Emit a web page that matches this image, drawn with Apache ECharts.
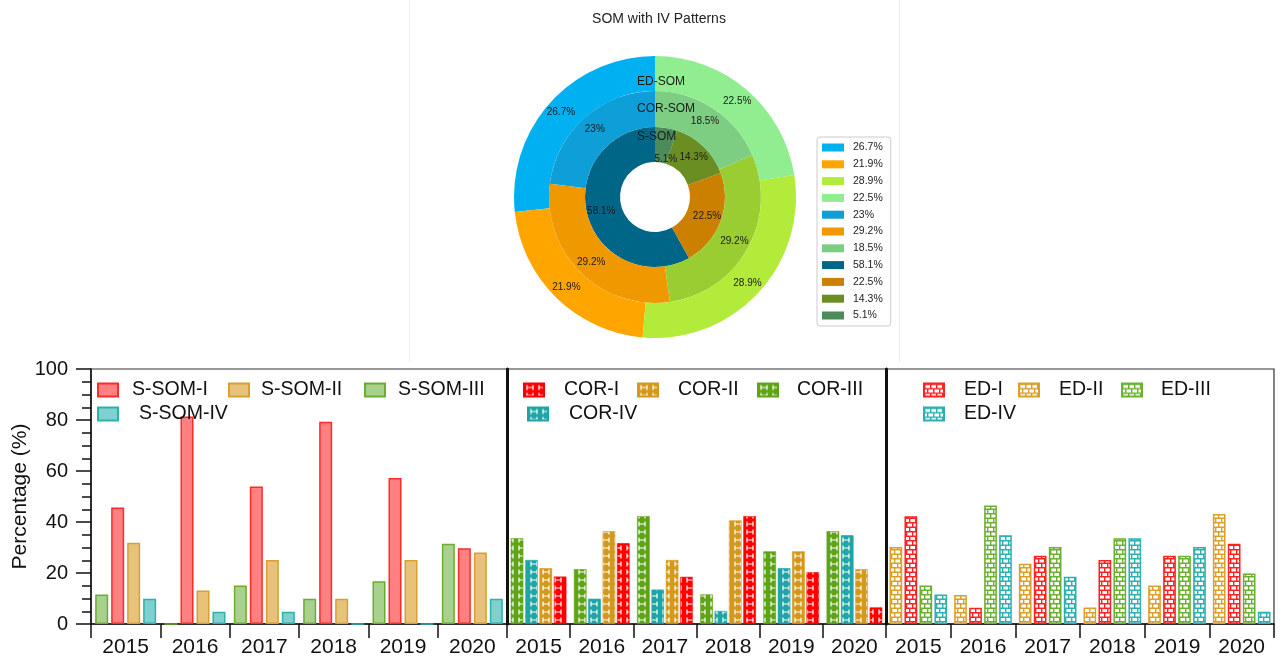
<!DOCTYPE html>
<html>
<head>
<meta charset="utf-8">
<title>SOM with IV Patterns</title>
<script src="https://cdn.jsdelivr.net/npm/echarts@6/dist/echarts.min.js"></script>
<style>
html, body { margin: 0; padding: 0; background: #fff; }
#main { width: 1282px; height: 659px; }
</style>
</head>
<body>
<div id="main"></div>
<script>
// ---- donut data (outer = ED-SOM, middle = COR-SOM, inner = S-SOM) ----
var edRing  = [26.7, 21.9, 28.9, 22.5];
var corRing = [23, 29.2, 29.2, 18.5];
var sRing   = [58.1, 22.5, 14.3, 5.1];
var edRingColors  = ['#00B0F0', '#FFA500', '#B3EB3A', '#90EE90'];
var corRingColors = ['#0E9ED8', '#F09800', '#9ACD32', '#7DCE82'];
var sRingColors   = ['#006688', '#CC8000', '#6B8E23', '#4E8B5A'];

// ---- bar data ----
var years = ['2015', '2016', '2017', '2018', '2019', '2020'];
var sSom1 = [45.7, 81.4, 53.9, 79.3, 57.3, 29.7];
var sSom2 = [31.9, 13.1, 25.1, 9.9, 25.1, 28.0];
var sSom3 = [11.6, 0, 15.1, 9.9, 16.8, 31.5];
var sSom4 = [9.9, 4.8, 4.8, 0, 0, 9.9];
var cor1 = [18.6, 31.7, 18.5, 42.3, 20.3, 6.5];
var cor2 = [21.9, 36.4, 25.1, 40.6, 28.5, 21.5];
var cor3 = [33.6, 21.5, 42.3, 11.6, 28.5, 36.4];
var cor4 = [25.1, 9.9, 13.5, 5.1, 21.9, 34.8];
var ed1 = [42.3, 6.4, 26.8, 25.1, 26.8, 31.5];
var ed2 = [30.2, 11.4, 23.6, 6.5, 15.1, 43.1];
var ed3 = [15.1, 46.5, 30.2, 33.6, 26.8, 19.8];
var ed4 = [11.6, 34.8, 18.5, 33.6, 30.2, 4.8];
var yTicks = [0, 20, 40, 60, 80, 100];

var FONT = '"Liberation Sans", Arial, sans-serif';

// pattern fills
function hPattern(color) {
  var c = document.createElement('canvas');
  c.width = 12; c.height = 8;
  var g = c.getContext('2d');
  g.fillStyle = color; g.fillRect(0, 0, 12, 8);
  g.strokeStyle = '#fff'; g.lineWidth = 1.2;
  g.beginPath();
  g.moveTo(3, 1.5); g.lineTo(3, 6.5);
  g.moveTo(9, 1.5); g.lineTo(9, 6.5);
  g.moveTo(3, 4); g.lineTo(9, 4);
  g.stroke();
  return { image: c, repeat: 'repeat' };
}
function brickPattern(color) {
  var c = document.createElement('canvas');
  c.width = 12; c.height = 9;
  var g = c.getContext('2d');
  g.fillStyle = '#fff'; g.fillRect(0, 0, 12, 9);
  g.strokeStyle = color; g.lineWidth = 1.4;
  g.beginPath();
  g.moveTo(0, 0.7); g.lineTo(12, 0.7);
  g.moveTo(0, 5.2); g.lineTo(12, 5.2);
  g.moveTo(0.7, 0.7); g.lineTo(0.7, 5.2);
  g.moveTo(6.7, 0.7); g.lineTo(6.7, 5.2);
  g.moveTo(3.7, 5.2); g.lineTo(3.7, 9);
  g.moveTo(9.7, 5.2); g.lineTo(9.7, 9);
  g.stroke();
  return { image: c, repeat: 'repeat' };
}

function ringData(prefix, vals, colors) {
  return vals.map(function (v, i) {
    return { name: prefix + '|' + v + '%', value: v, itemStyle: { color: colors[i] } };
  });
}
var edData = ringData('ED', edRing, edRingColors);
var corData = ringData('COR', corRing, corRingColors);
var sData = ringData('S', sRing, sRingColors);
// small slice label sits lower, below the ring title
sData[3].label = { offset: [2, 17] };

function ring(data, radius) {
  return {
    type: 'pie', center: [655, 197], radius: radius,
    startAngle: 90, clockwise: false, silent: true,
    data: data,
    label: {
      position: 'inside', fontSize: 10, color: '#1a1a1a', fontFamily: FONT,
      formatter: function (p) { return p.value + '%'; }
    },
    labelLine: { show: false },
    itemStyle: { borderWidth: 0 }
  };
}

function bar(name, data, idx, style, width, gap) {
  return {
    name: name, type: 'bar', xAxisIndex: idx, yAxisIndex: idx,
    data: data, barWidth: width, barGap: gap, silent: true,
    itemStyle: style
  };
}

var sStyle = {
  I:   { color: '#FF8080', borderColor: '#FF2A2A', borderWidth: 1.5 },
  II:  { color: '#E6C27A', borderColor: '#D9A030', borderWidth: 1.5 },
  III: { color: '#A9D18E', borderColor: '#6AAE2E', borderWidth: 1.5 },
  IV:  { color: '#7FD1CF', borderColor: '#2BB1AE', borderWidth: 1.5 }
};
var corStyle = {
  I:   { color: hPattern('#FF0000'), borderColor: '#FF0000', borderWidth: 0.6 },
  II:  { color: hPattern('#D4991C'), borderColor: '#D4991C', borderWidth: 0.6 },
  III: { color: hPattern('#5FA317'), borderColor: '#5FA317', borderWidth: 0.6 },
  IV:  { color: hPattern('#1FA5A5'), borderColor: '#1FA5A5', borderWidth: 0.6 }
};
var edStyle = {
  I:   { color: brickPattern('#FF2222'), borderColor: '#FF2222', borderWidth: 1.5 },
  II:  { color: brickPattern('#D9A02A'), borderColor: '#D9A02A', borderWidth: 1.5 },
  III: { color: brickPattern('#6BB131'), borderColor: '#6BB131', borderWidth: 1.5 },
  IV:  { color: brickPattern('#2DB0B0'), borderColor: '#2DB0B0', borderWidth: 1.5 }
};

var grids = [
  { left: 91, top: 369, width: 416, height: 255 },
  { left: 507, top: 369, width: 379, height: 255 },
  { left: 886, top: 369, width: 388, height: 255 }
];
grids.forEach(function (g) { g.show = true; g.borderColor = '#333'; g.borderWidth = 1.2; g.backgroundColor = 'transparent'; });

var xAxes = [0, 1, 2].map(function (i) {
  return {
    type: 'category', gridIndex: i, data: years, boundaryGap: true,
    axisLine: { lineStyle: { color: '#111', width: 1.5 } },
    axisTick: { show: true, length: 14, lineStyle: { color: '#111', width: 1.5 } },
    axisLabel: { fontSize: 21, color: '#111', margin: 13, fontFamily: FONT }
  };
});
var yAxes = [0, 1, 2].map(function (i) {
  var first = i === 0;
  return {
    type: 'value', gridIndex: i, min: yTicks[0], max: yTicks[yTicks.length - 1], interval: 20,
    splitLine: { show: false },
    axisLine: { show: true, lineStyle: { color: '#111', width: first ? 1.5 : 3 } },
    axisTick: { show: first, length: 15, lineStyle: { color: '#111', width: 1.5 } },
    minorTick: { show: first, splitNumber: 4, length: 9, lineStyle: { color: '#111', width: 1.5 } },
    axisLabel: { show: first, fontSize: 20, color: '#111', margin: 23, fontFamily: FONT },
    name: first ? 'Percentage (%)' : '',
    nameLocation: 'middle', nameGap: 58,
    nameTextStyle: { fontSize: 21, color: '#111', fontFamily: FONT }
  };
});

function itemLegend(name, left, top, pad) {
  return {
    left: left, top: top, data: [name], padding: 0, icon: 'rect',
    itemWidth: 20, itemHeight: 13, selectedMode: false,
    textStyle: { fontSize: 19.5, color: '#111', fontFamily: FONT, padding: [0, 0, 0, pad] }
  };
}

var option = {
  animation: false,
  textStyle: { fontFamily: FONT },
  title: {
    text: 'SOM with IV Patterns', left: 654, top: 7, textAlign: 'center',
    textStyle: { fontSize: 14, fontWeight: 'normal', color: '#222', fontFamily: FONT }
  },
  graphic: [
    { type: 'line', shape: { x1: 409.5, y1: 0, x2: 409.5, y2: 362 }, style: { stroke: '#eeeeee', lineWidth: 1 }, silent: true },
    { type: 'line', shape: { x1: 899.5, y1: 0, x2: 899.5, y2: 362 }, style: { stroke: '#eeeeee', lineWidth: 1 }, silent: true },
    { type: 'text', left: 637, top: 76, z: 100, style: { text: 'ED-SOM', fontSize: 12, fill: '#1a1a1a', fontFamily: FONT }, silent: true },
    { type: 'text', left: 637, top: 103, z: 100, style: { text: 'COR-SOM', fontSize: 12, fill: '#1a1a1a', fontFamily: FONT }, silent: true },
    { type: 'text', left: 637, top: 131, z: 100, style: { text: 'S-SOM', fontSize: 12, fill: '#1a1a1a', fontFamily: FONT }, silent: true }
  ],
  legend: [
    {
      orient: 'vertical', left: 817, top: 137, padding: [5, 8, 5, 5], icon: 'rect',
      itemWidth: 22, itemHeight: 8, itemGap: 5.8, selectedMode: false,
      backgroundColor: '#fff', borderColor: '#ccc', borderWidth: 1, borderRadius: 3,
      data: edData.concat(corData, sData).map(function (d) { return d.name; }),
      formatter: function (n) { return n.split('|')[1]; },
      textStyle: { fontSize: 10.5, color: '#222', fontFamily: FONT, padding: [0, 0, 0, 4] }
    },
    itemLegend('S-SOM-I', 97, 380, 9),
    itemLegend('S-SOM-II', 228, 380, 7),
    itemLegend('S-SOM-III', 364, 380, 8),
    itemLegend('S-SOM-IV', 97, 404, 16),
    itemLegend('COR-I', 523, 380, 15),
    itemLegend('COR-II', 637, 380, 15),
    itemLegend('COR-III', 757, 380, 14),
    itemLegend('COR-IV', 527, 404, 16),
    itemLegend('ED-I', 923, 380, 15),
    itemLegend('ED-II', 1018, 380, 15),
    itemLegend('ED-III', 1121, 380, 14),
    itemLegend('ED-IV', 923, 404, 15)
  ],
  grid: grids,
  xAxis: xAxes,
  yAxis: yAxes,
  series: [
    ring(sData, [35, 70]),
    ring(corData, [70, 106]),
    ring(edData, [106, 141]),
    // panel 1 order in group: III, I, II, IV
    bar('S-SOM-III', sSom3, 0, sStyle.III, 13, '23%'),
    bar('S-SOM-I', sSom1, 0, sStyle.I, 13, '23%'),
    bar('S-SOM-II', sSom2, 0, sStyle.II, 13, '23%'),
    bar('S-SOM-IV', sSom4, 0, sStyle.IV, 13, '23%'),
    // panel 2 order: III, IV, II, I
    bar('COR-III', cor3, 1, corStyle.III, 12.6, '14%'),
    bar('COR-IV', cor4, 1, corStyle.IV, 12.6, '14%'),
    bar('COR-II', cor2, 1, corStyle.II, 12.6, '14%'),
    bar('COR-I', cor1, 1, corStyle.I, 12.6, '14%'),
    // panel 3 order: II, I, III, IV
    bar('ED-II', ed2, 2, edStyle.II, 12.7, '18%'),
    bar('ED-I', ed1, 2, edStyle.I, 12.7, '18%'),
    bar('ED-III', ed3, 2, edStyle.III, 12.7, '18%'),
    bar('ED-IV', ed4, 2, edStyle.IV, 12.7, '18%')
  ]
};

var chart = echarts.init(document.getElementById('main'));
chart.setOption(option);
</script>
</body>
</html>
